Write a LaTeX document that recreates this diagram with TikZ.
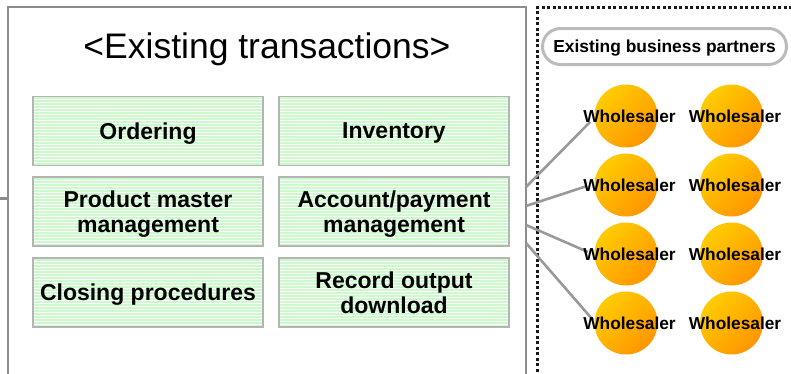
\documentclass[tikz,border=0pt]{standalone}
\usepackage{fontspec}
\setmainfont{Liberation Sans}
\usetikzlibrary{calc}
\definecolor{boxgray}{HTML}{8C8C8C}
\definecolor{linegray}{HTML}{999999}
\definecolor{stripegreen}{HTML}{CCFACC}
\definecolor{borderlight}{HTML}{B4B4B4}
\definecolor{pillgray}{HTML}{BBBBBB}
\definecolor{dotgray}{HTML}{1A1A1A}
\definecolor{orangeA}{HTML}{FFCC00}
\definecolor{orangeB}{HTML}{FF9600}
\begin{document}
\begin{tikzpicture}[x=1pt,y=-1pt,
  frame/.style={draw=boxgray, line width=2pt},
  dotsq/.style={fill=dotgray},
  task/.style={draw=borderlight, line width=1.5pt, minimum width=230pt, minimum height=69pt,
    inner sep=0pt, fill=white,
    path picture={\foreach \k in {1.5,4.5,...,72}{
      \draw[stripegreen, line width=2pt]
        ($(path picture bounding box.north west)+(0,\k)$) --
        ($(path picture bounding box.north east)+(0,\k)$);}},
    font=\fontsize{23}{25}\selectfont\bfseries, align=center, text depth=0pt},
  pill/.style={draw=pillgray, line width=3pt, rounded corners=18pt, minimum width=244pt,
    minimum height=36pt, inner sep=0pt, fill=white,
    font=\fontsize{17.4}{20}\selectfont\bfseries, text depth=0pt},
  ball/.style={circle, minimum size=63pt, inner sep=0pt,
    top color=orangeA, bottom color=orangeB, shading angle=45},
  wlabel/.style={inner sep=0pt, font=\fontsize{17.3}{20}\selectfont\bfseries, text depth=0pt},
  conn/.style={draw=linegray, line width=2.6pt}
]
\useasboundingbox (0,0) rectangle (791,373);

% frames
\draw[frame] (8,385) -- (8,7) -- (526,7) -- (526,385);
\coordinate (stubA) at (0,198);
\coordinate (stubB) at (8,198);
\draw[draw=boxgray, line width=3pt] (stubA) -- (stubB);
% dotted frame of the partners area
\foreach \k in {5.5,11,...,375}{\fill[dotsq] (536,\k) rectangle +(3,3);}
\foreach \k in {541.5,547,...,795}{\fill[dotsq] (\k,5.5) rectangle +(3,3);}

% title
\node (title) [anchor=base, inner sep=0pt, font=\fontsize{35.5}{40}\selectfont] at (267,58) {<Existing transactions>};

% task boxes
\node (ord) [task] at (148,131) {Ordering};
\node (inv) [task] at (394,131) {Inventory};
\node (pmm) [task] at (148,211.5) {Product master\\management};
\node (apm) [task] at (394,211.5) {Account/payment\\management};
\node (clo) [task] at (148,292.5) {Closing procedures};
\node (rec) [task] at (394,292.5) {Record output\\download};

% partners label
\node (partners) [pill] at (664.5,46.5) {Existing business partners};

% connectors
\coordinate (s1) at (526,187);
\coordinate (s2) at (526,206);
\coordinate (s3) at (526,225);
\coordinate (s4) at (526,243);
\coordinate (e1) at (590,122);
\coordinate (e2) at (587,186);
\coordinate (e3) at (588,252);
\coordinate (e4) at (593,320);
\draw[conn] (s1) -- (e1);
\draw[conn] (s2) -- (e2);
\draw[conn] (s3) -- (e3);
\draw[conn] (s4) -- (e4);

% wholesalers
\foreach \r/\y in {1/116,2/185,3/254,4/323}{
  \node (c\r a) [ball] at (626,\y) {};
  \node (c\r b) [ball] at (731.5,\y) {};
  \node (w\r a) [wlabel] at ($(c\r a)+(3.5,0)$) {Wholesaler};
  \node (w\r b) [wlabel] at ($(c\r b)+(3.5,0)$) {Wholesaler};
}
\end{tikzpicture}
\end{document}
